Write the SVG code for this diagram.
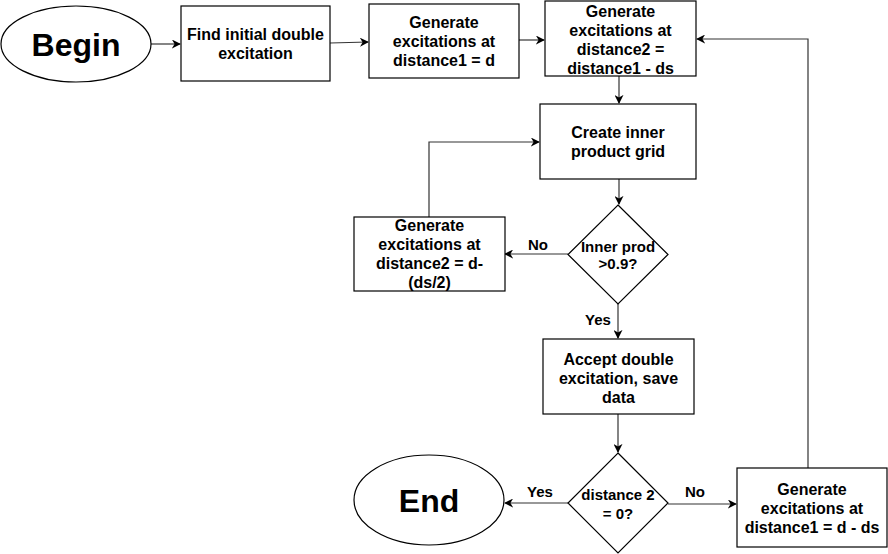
<svg xmlns="http://www.w3.org/2000/svg" width="888" height="554" viewBox="0 0 888 554">
<defs>
<marker id="arr" viewBox="0 0 10 10" refX="9" refY="5" markerWidth="9" markerHeight="9" markerUnits="userSpaceOnUse" orient="auto">
<path d="M0,0 L10,5 L0,10 L3,5 Z" fill="#000"/>
</marker>
<style>
.shape{fill:#fff;stroke:#000;stroke-width:1.2}
.t{font-family:"Liberation Sans",Arial,sans-serif;font-weight:bold;font-size:16px;fill:#000;text-anchor:middle}
.s{font-size:15px}
.big{font-size:32px}
.edge{fill:none;stroke:#333;stroke-width:1.2;marker-end:url(#arr)}
.plain{fill:none;stroke:#333;stroke-width:1.2}
</style>
</defs>
<rect width="888" height="554" fill="#fff"/>
<g id="connectors">
<path class="edge" d="M151,44 L180,44"/>
<path class="edge" d="M330,43 L368,42"/>
<path class="edge" d="M519,40 L544,40"/>
<path class="edge" d="M619,76 L619,103"/>
<path class="edge" d="M619,179 L619,204"/>
<path class="edge" d="M568,254 L505,254"/>
<path class="edge" d="M429,217 L429,142 L539,142"/>
<path class="edge" d="M618,304 L618,338"/>
<path class="edge" d="M618,414 L618,452"/>
<path class="edge" d="M568,503 L505,503"/>
<path class="edge" d="M668,504 L736,504"/>
<path class="edge" d="M808,468 L808,39 L697,39"/>
</g>
<g id="begin">
<ellipse class="shape" cx="76" cy="44" rx="75" ry="38"/>
<text class="t big" x="76" y="56">Begin</text>
</g>
<g id="find">
<rect class="shape" x="181" y="6" width="149" height="75"/>
<text class="t" x="255.5" y="40">Find initial double</text>
<text class="t" x="255.5" y="59">excitation</text>
</g>
<g id="gen-d">
<rect class="shape" x="369" y="4" width="150" height="74"/>
<text class="t" x="444" y="27.5">Generate</text>
<text class="t" x="444" y="46.5">excitations at</text>
<text class="t" x="444" y="65.5">distance1 = d</text>
</g>
<g id="gen-ds">
<rect class="shape" x="545" y="1" width="151" height="75"/>
<text class="t" x="620.5" y="16.5">Generate</text>
<text class="t" x="620.5" y="35.5">excitations at</text>
<text class="t" x="620.5" y="54.5">distance2 =</text>
<text class="t" x="620.5" y="73.5">distance1 - ds</text>
</g>
<g id="grid">
<rect class="shape" x="540" y="104" width="156" height="75"/>
<text class="t" x="618" y="138">Create inner</text>
<text class="t" x="618" y="157">product grid</text>
</g>
<g id="gen-half">
<rect class="shape" x="354" y="217" width="151" height="74"/>
<text class="t" x="429.5" y="231">Generate</text>
<text class="t" x="429.5" y="250">excitations at</text>
<text class="t" x="429.5" y="269">distance2 = d-</text>
<text class="t" x="429.5" y="288">(ds/2)</text>
</g>
<g id="inner-prod">
<path class="shape" d="M618,205 L668,254.5 L618,304 L568,254.5 Z"/>
<text class="t s" x="618" y="252">Inner prod</text>
<text class="t s" x="618" y="269">&gt;0.9?</text>
</g>
<g id="accept">
<rect class="shape" x="543" y="339" width="151" height="75"/>
<text class="t" x="618.5" y="365">Accept double</text>
<text class="t" x="618.5" y="384">excitation, save</text>
<text class="t" x="618.5" y="403">data</text>
</g>
<g id="dist-zero">
<path class="shape" d="M618,453 L668,503 L618,553 L568,503 Z"/>
<text class="t s" x="618" y="500">distance 2</text>
<text class="t s" x="618" y="519">= 0?</text>
</g>
<g id="end">
<ellipse class="shape" cx="429" cy="500" rx="75" ry="45"/>
<text class="t big" x="429" y="512">End</text>
</g>
<g id="gen-next">
<rect class="shape" x="737" y="468" width="150" height="79"/>
<text class="t" x="812" y="494.5">Generate</text>
<text class="t" x="812" y="513.5">excitations at</text>
<text class="t" x="812" y="532.5">distance1 = d - ds</text>
</g>
<g id="labels">
<text class="t s" x="538" y="250">No</text>
<text class="t s" x="598" y="325">Yes</text>
<text class="t s" x="540" y="497">Yes</text>
<text class="t s" x="695" y="497">No</text>
</g>
</svg>
